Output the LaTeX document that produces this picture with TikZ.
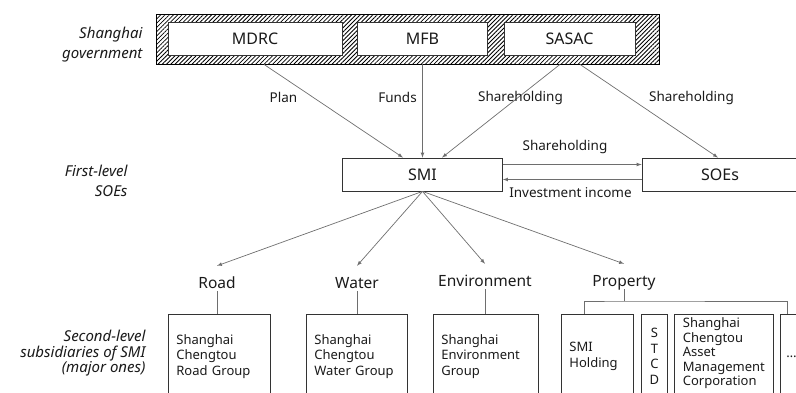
\documentclass[tikz,border=0pt]{standalone}
\usepackage{fontspec}
\setmainfont{Noto Sans}
\usetikzlibrary{patterns.meta}
\definecolor{linegray}{HTML}{6E6E6E}
\definecolor{boxgray}{HTML}{333333}
\definecolor{inkgray}{HTML}{1A1A1A}
\begin{document}
\begin{tikzpicture}
	  [
	    x                   = 1pt,
	    y                   = -1pt,
	    every node/.style   = {font=\fontsize{13.5}{15.5}\selectfont, text=inkgray},
	    govbox/.style       = {
			draw=black, line width=0.9pt, inner sep=0pt,
			pattern={Lines[angle=45, distance=3pt, line width=0.8pt]},
			minimum width=503pt, minimum height=50pt
		},
	    agency/.style       = {
			draw=boxgray, line width=0.8pt, fill=white, inner sep=0pt,
			minimum height=33pt, font=\fontsize{16}{19}\selectfont
		},
	    side/.style         = {align=right, anchor=east, font=\itshape\fontsize{15}{20}\selectfont},
	    level/.style        = {anchor=base, inner sep=0pt, text height=22pt, text depth=3pt,
			font=\fontsize{15.5}{18}\selectfont},
	    boxline/.style      = {draw=boxgray, line width=0.8pt},
	    subbox/.style       = {boxline, anchor=north west, inner xsep=8pt,
			align=left, minimum height=84pt, font=\fontsize{13}{15.5}\selectfont},
	    flow/.style         = {draw=linegray, line width=0.7pt, -latex},
	    link/.style         = {draw=linegray, line width=0.7pt}
	  ]
		\clip (0,0) rectangle (796,392);
		% row labels
		\node[side] (govlabel) at (146,45) {Shanghai\\government};
		\node[side] (firstlabel) at (131,181) {First-level\\SOEs};
		\node[side, font=\itshape\fontsize{15}{15.5}\selectfont] (secondlabel) at (149,353.5)
			{Second-level\\subsidiaries of SMI\\(major ones)};
		% government
		\node[govbox] (gov) at (407.5,39) {};
		\node[agency, minimum width=174pt] (MDRC) at (255,38.5) {MDRC};
		\node[agency, minimum width=130pt] (MFB) at (422.5,38.5) {MFB};
		\node[agency, minimum width=131pt] (SASAC) at (569.5,38.5) {SASAC};
		% first level
		\node[agency, minimum width=160pt] (SMI) at (422.5,174.5) {SMI};
		\node[agency, minimum width=156pt] (SOEs) at (720,174.5) {SOEs};
		\draw[flow] ([xshift=9pt]MDRC.south |- gov.south) -- ([xshift=-19.5pt]SMI.north);
		\draw[flow] (MFB.south |- gov.south) -- (SMI.north);
		\draw[flow] ([xshift=-9.5pt]SASAC.south |- gov.south) -- ([xshift=19.5pt]SMI.north);
		\draw[flow] ([xshift=10.5pt]SASAC.south |- gov.south) -- ([xshift=-2pt]SOEs.north);
		\node (plan) at (283.5,97.5) {Plan};
		\node (funds) at (397.5,97.5) {Funds};
		\node (share1) at (520.5,97.5) {Shareholding};
		\node (share2) at (691.5,97.5) {Shareholding};
		\draw[flow] ([yshift=10pt]SMI.east) -- ([yshift=10pt]SOEs.west);
		\draw[flow] ([yshift=-5pt]SOEs.west) -- ([yshift=-5pt]SMI.east);
		\node (share3) at (565,147) {Shareholding};
		\node (income) at (570.5,193) {Investment income};
		% sectors
		\node[level] (Road) at (217,288) {Road};
		\node[level] (Water) at (357,288) {Water};
		\node[level] (Environment) at (485,286) {Environment};
		\node[level] (Property) at (624,286) {Property};
		\foreach \sector in {Road, Water, Environment, Property}
			\draw[flow] (SMI.south) -- (\sector.north);
		% second level
		\node[subbox, text width=86pt] (roadgroup) at (168,314) {Shanghai\\Chengtou\\Road Group};
		\node[subbox, text width=85pt] (watergroup) at (306,314) {Shanghai\\Chengtou\\Water Group};
		\node[subbox, text width=89pt] (envgroup) at (433,314) {Shanghai\\Environment\\Group};
		\node[subbox, text width=56pt] (smiholding) at (561,314) {SMI\\Holding};
		\node[subbox, text width=10pt, align=center] (stcd) at (641,314) {S\\T\\C\\D};
		\node[subbox, draw=none, text width=82pt, inner xsep=8.5pt, minimum height=78pt,
			font=\fontsize{13}{14.5}\selectfont] (assetcorp) at (674,314)
			{Shanghai\\Chengtou\\Asset\\Management\\Corporation};
		\draw[boxline] ([yshift=-20pt]assetcorp.south west) |- (assetcorp.north east)
			-- ([yshift=-20pt]assetcorp.south east);
		\node[subbox, text width=20pt, inner xsep=6pt] (more) at (780,314) {\dots};
		\draw[link] (Road.south) -- (Road.south |- roadgroup.north);
		\draw[link] (Water.south) -- (Water.south |- watergroup.north);
		\draw[link] (Environment.south) -- (Environment.south |- envgroup.north);
		\coordinate (bar) at (624,301);
		\draw[link] (Property.south) -- (bar);
		\draw[link] ([xshift=-13pt]smiholding.north) |- (bar) -| ([xshift=7pt]more.north west);
	\end{tikzpicture}
\end{document}
